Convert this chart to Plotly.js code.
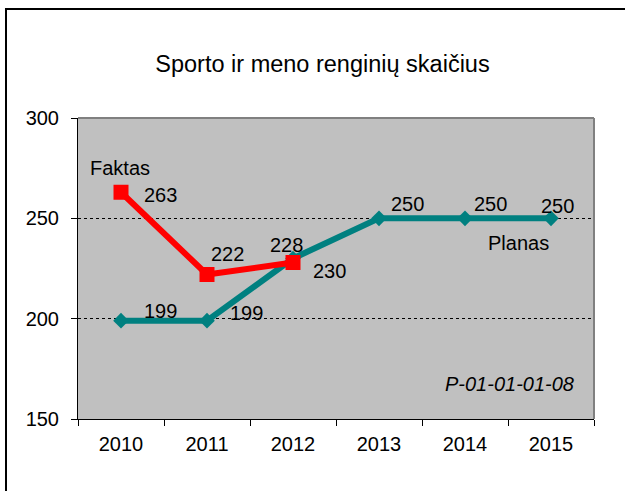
<!DOCTYPE html>
<html>
<head>
<meta charset="utf-8">
<script src="https://cdn.plot.ly/plotly-3.0.1.min.js"></script>
<style>
html, body { margin: 0; padding: 0; background: #fff; }
#chart { width: 625px; height: 491px; }
</style>
</head>
<body>
<div id="chart"></div>
<script>
// ---- data ----
var years = ["2010", "2011", "2012", "2013", "2014", "2015"];
var planasValues = [199, 199, 230, 250, 250, 250];
var faktasYears = ["2010", "2011", "2012"];
var faktasValues = [263, 222, 228];
var titleText = "Sporto ir meno renginių skaičius";
var planasName = "Planas";
var faktasName = "Faktas";
var codeText = "P-01-01-01-08";
var yTicks = [150, 200, 250, 300];

// ---- label placement (pixels) ----
var planasLabelShift = [[39, 10], [39, 8], [36, -13], [28, 14], [25, 14], [6, 12]];
var faktasLabelShift = [[39, -3], [20, 21], [-7, 17]];

var FONT = "Arial, 'Liberation Sans', sans-serif";

var traces = [
  {
    x: years, y: planasValues, name: planasName, type: "scatter", mode: "lines+markers",
    line: { color: "#008080", width: 6 },
    marker: { symbol: "diamond", size: 12, color: "#008080" },
    hoverinfo: "x+y"
  },
  {
    x: faktasYears, y: faktasValues, name: faktasName, type: "scatter", mode: "lines+markers",
    line: { color: "#FF0000", width: 6 },
    marker: { symbol: "square", size: 15, color: "#FF0000" },
    hoverinfo: "x+y"
  }
];

// category index of a year on the x axis
function catIndex(cat) { return years.indexOf(cat); }

var annotations = [];
function addLabels(xs, ys, shifts) {
  for (var i = 0; i < xs.length; i++) {
    annotations.push({
      x: catIndex(xs[i]), y: ys[i], xref: "x", yref: "y", text: String(ys[i]),
      showarrow: false, xanchor: "center", yanchor: "middle",
      xshift: shifts[i][0], yshift: shifts[i][1],
      font: { family: FONT, size: 20, color: "#000" }
    });
  }
}
addLabels(years, planasValues, planasLabelShift);
addLabels(faktasYears, faktasValues, faktasLabelShift);

// series name labels
annotations.push({
  x: catIndex(faktasYears[0]), y: faktasValues[0], xref: "x", yref: "y", text: faktasName,
  showarrow: false, xanchor: "center", yanchor: "middle", xshift: -1, yshift: 24,
  font: { family: FONT, size: 20, color: "#000" }
});
annotations.push({
  x: catIndex(years[5]), y: planasValues[5], xref: "x", yref: "y", text: planasName,
  showarrow: false, xanchor: "center", yanchor: "middle", xshift: -33, yshift: -25,
  font: { family: FONT, size: 20, color: "#000" }
});
annotations.push({
  x: 0.965, y: 0.116, xref: "paper", yref: "paper", text: "<i>" + codeText + "</i>",
  showarrow: false, xanchor: "right", yanchor: "middle",
  font: { family: FONT, size: 20, color: "#000" }
});

var shapes = [
  // plot area border (top & right) in grey
  { type: "line", xref: "paper", yref: "paper", x0: 0, x1: 1, y0: 1, y1: 1, line: { color: "#808080", width: 2 } },
  { type: "line", xref: "paper", yref: "paper", x0: 1, x1: 1, y0: 0, y1: 1, line: { color: "#808080", width: 2 } },
  // outer chart border (left & top visible)
  { type: "line", xref: "paper", yref: "paper", x0: -0.13953, x1: -0.13953, y0: 1.3655, y1: -0.3, line: { color: "#000", width: 2 } },
  { type: "line", xref: "paper", yref: "paper", x0: -0.1415, x1: 1.1, y0: 1.36213, y1: 1.36213, line: { color: "#000", width: 2 } }
];

var layout = {
  width: 625, height: 491,
  margin: { l: 78, r: 31, t: 118, b: 72, pad: 0 },
  paper_bgcolor: "#FFFFFF",
  plot_bgcolor: "#C0C0C0",
  showlegend: false,
  font: { family: FONT, size: 20, color: "#000" },
  title: {
    text: titleText, font: { family: FONT, size: 23.5, color: "#000" },
    x: 0.516, xref: "container", xanchor: "center",
    y: 1 - 64 / 491, yref: "container", yanchor: "middle"
  },
  xaxis: {
    type: "category", categoryorder: "array", categoryarray: years,
    range: [-0.5, 5.5], tickson: "boundaries",
    ticks: "outside", ticklen: 6, tickwidth: 1, tickcolor: "#000",
    showline: true, linecolor: "#000", linewidth: 1,
    showgrid: false, zeroline: false,
    tickfont: { family: FONT, size: 20, color: "#000" },
    ticklabelstandoff: 7,
    fixedrange: true
  },
  yaxis: {
    range: [150, 300], tickvals: yTicks, ticktext: yTicks.map(String),
    ticks: "outside", ticklen: 6, tickwidth: 1, tickcolor: "#000",
    showline: true, linecolor: "#000", linewidth: 1,
    showgrid: true, gridcolor: "#000", gridwidth: 1, griddash: "dot",
    zeroline: false,
    tickfont: { family: FONT, size: 20, color: "#000" },
    ticklabelstandoff: 8,
    fixedrange: true
  },
  annotations: annotations,
  shapes: shapes
};

Plotly.newPlot("chart", traces, layout, { displayModeBar: false, staticPlot: true });
</script>
</body>
</html>
